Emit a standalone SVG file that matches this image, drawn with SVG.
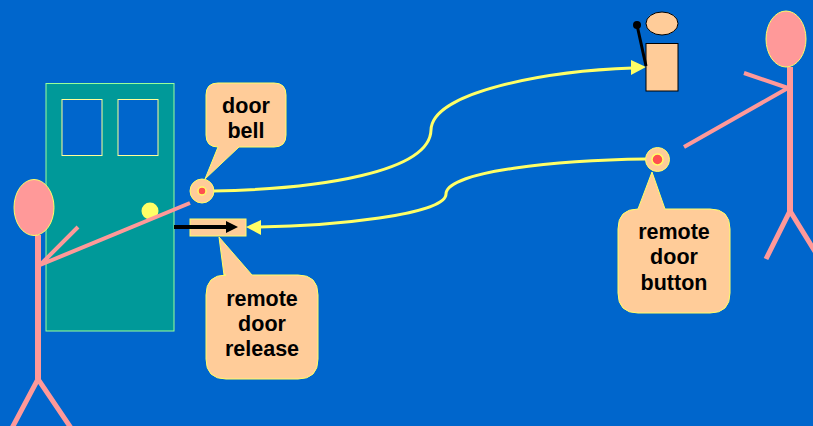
<svg xmlns="http://www.w3.org/2000/svg" width="813" height="426" viewBox="0 0 813 426">
  <style>
    .limb { fill: none; stroke: #ff9999; stroke-width: 5; }
    .body { fill: none; stroke: #ff9999; stroke-width: 6; }
    .arm { fill: none; stroke: #ff9999; stroke-width: 4; stroke-linejoin: bevel; }
    .head { fill: #ff9999; stroke: #ffff66; stroke-width: 1; }
    .pane { fill: #0066cc; stroke: #ffff99; stroke-width: 1; }
    .callout { fill: #ffcc99; stroke: #ffff66; stroke-width: 1; stroke-linejoin: round; }
    .wire { fill: none; stroke: #ffff66; stroke-width: 3; }
    .tip { fill: #ffff66; }
    .label { font-family: "Liberation Sans", Arial, sans-serif; font-size: 21.5px; font-weight: bold; fill: #000; text-anchor: middle; }
    .outlined { fill: #ffcc99; stroke: #000; stroke-width: 1; }
  </style>
  <rect id="background" width="813" height="426" fill="#0066cc"/>

  <g id="door">
    <rect x="46" y="83.5" width="128" height="247.5" fill="#009999" stroke="#99ff99" stroke-width="1"/>
    <rect class="pane" x="62" y="99.5" width="40" height="56"/>
    <rect class="pane" x="118" y="99.5" width="40" height="56"/>
    <circle cx="150" cy="211" r="8.5" fill="#ffff66"/>
  </g>

  <g id="connectors">
    <path class="wire" d="M213 191C320 189 430 172 431 130C432 92 545 71 633 68"/>
    <polygon class="tip" points="646,67 631,60 631,75"/>
    <path class="wire" d="M259 227C330 226 446 215 446 194C446 171 560 160 646 159"/>
    <polygon class="tip" points="246,227 261,220 261,235"/>
  </g>

  <g id="visitor">
    <path class="body" d="M38 235V379"/>
    <path class="limb" d="M12 428L38 379L71 428"/>
    <path class="arm" d="M78 227L40 265L190 203"/>
    <ellipse class="head" cx="34" cy="207.5" rx="20" ry="28"/>
  </g>

  <g id="door-bell">
    <circle cx="202" cy="191" r="12" class="callout"/>
    <circle cx="202" cy="191" r="4" fill="#ff5050" stroke="#ffff66" stroke-width="1.5"/>
  </g>
  <g id="door-bell-label">
    <path class="callout" d="M218 83H274Q286 83 286 95V135Q286 147 274 147H239L205 179L218 147Q206 147 206 135V95Q206 83 218 83Z"/>
    <text class="label" x="246" y="113">door</text>
    <text class="label" x="246" y="138">bell</text>
  </g>

  <g id="door-release">
    <rect x="190" y="219" width="56" height="17" fill="#ffcc99" stroke="#ffff66" stroke-width="1"/>
    <path d="M174 227H228" stroke="#000" stroke-width="4" fill="none"/>
    <polygon points="238,227 226,221 226,233" fill="#000"/>
  </g>
  <g id="door-release-label">
    <path class="callout" d="M226 275H224L219 237L252 275H298Q318 275 318 295V359Q318 379 298 379H226Q206 379 206 359V295Q206 275 226 275Z"/>
    <text class="label" x="262" y="306">remote</text>
    <text class="label" x="262" y="331">door</text>
    <text class="label" x="262" y="356">release</text>
  </g>

  <g id="remote-button">
    <circle cx="657.5" cy="159.5" r="12" class="callout"/>
    <circle cx="657.5" cy="159.5" r="5.5" fill="#ff5050" stroke="#ffff66" stroke-width="1.5"/>
  </g>
  <g id="remote-button-label">
    <path class="callout" d="M638 209L652 172L665 209H710Q730 209 730 229V293Q730 313 710 313H638Q618 313 618 293V229Q618 209 638 209Z"/>
    <text class="label" x="674" y="239">remote</text>
    <text class="label" x="674" y="264">door</text>
    <text class="label" x="674" y="290">button</text>
  </g>

  <g id="intercom">
    <ellipse class="outlined" cx="662" cy="23.5" rx="16" ry="11.5"/>
    <rect class="outlined" x="646" y="43.5" width="32" height="47.5"/>
    <path d="M646 66L637 25" stroke="#000" stroke-width="3" fill="none"/>
    <circle cx="637" cy="25" r="4" fill="#000"/>
  </g>

  <g id="resident">
    <path class="body" d="M790 67V211"/>
    <path class="limb" d="M766 259L790 211L816 253"/>
    <path class="arm" d="M744 73L788 88L684 147"/>
    <ellipse class="head" cx="786" cy="39" rx="20" ry="28"/>
  </g>
</svg>
